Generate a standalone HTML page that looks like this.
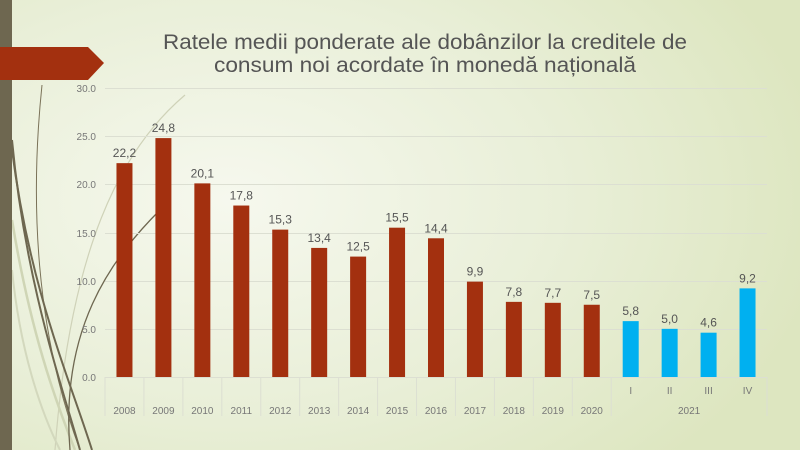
<!DOCTYPE html>
<html><head><meta charset="utf-8"><style>
body{margin:0}
#c{position:relative;width:800px;height:450px;overflow:hidden;background:radial-gradient(ellipse 600px 380px at 230px 200px,#f6f8ee 0%,#e9efd8 55%,#dde6c0 100%);font-family:"Liberation Sans",sans-serif}
</style></head><body><div id="c">
<svg width="800" height="450" style="position:absolute;left:0;top:0" font-family="Liberation Sans, sans-serif">
<g fill="none">
<path d="M185 95 C120 150 70 250 55 450" stroke="#cfd2b8" stroke-width="1.2"/>
<path d="M42 85 C30 200 35 330 80 450" stroke="#7a7258" stroke-width="1"/>
<path d="M12 140 C25 280 60 380 80 450" stroke="#6e6750" stroke-width="2"/>
<path d="M12 150 C30 290 70 380 92 450" stroke="#6e6750" stroke-width="2"/>
<path d="M12 220 C30 330 55 400 75 450" stroke="#cfd5b5" stroke-width="2.5"/>
<path d="M160 210 C110 260 60 330 70 450" stroke="#6e6750" stroke-width="1.3"/>
<path d="M12 270 C20 350 40 410 60 450" stroke="#d3d8bd" stroke-width="2"/>
</g>
<rect x="0" y="0" width="12" height="450" fill="#6e6750"/>
<polygon points="0,47 88,47 104,63 88,80 0,80" fill="#a3300f"/>
<text x="425" y="49" text-anchor="middle" font-size="21" fill="#555" textLength="524" lengthAdjust="spacingAndGlyphs">Ratele medii ponderate ale dobânzilor la creditele de</text>
<text x="425" y="72" text-anchor="middle" font-size="21" fill="#555" textLength="422" lengthAdjust="spacingAndGlyphs">consum noi acordate în monedă națională</text>
<g stroke="#dcdfd2" stroke-width="1">
<line x1="105" x2="767" y1="88.5" y2="88.5"/><line x1="105" x2="767" y1="136.5" y2="136.5"/><line x1="105" x2="767" y1="184.5" y2="184.5"/><line x1="105" x2="767" y1="233.5" y2="233.5"/><line x1="105" x2="767" y1="281.5" y2="281.5"/><line x1="105" x2="767" y1="329.5" y2="329.5"/><line x1="105" x2="767" y1="377.5" y2="377.5"/>
</g>
<g font-size="10" fill="#777" text-anchor="end">
<text x="96" y="92">30.0</text><text x="96" y="140">25.0</text><text x="96" y="188">20.0</text><text x="96" y="237">15.0</text><text x="96" y="285">10.0</text><text x="96" y="333">5.0</text><text x="96" y="381">0.0</text>
</g>
<g id="bars"></g>
</svg>
<script>
var v=[22.2,24.8,20.1,17.8,15.3,13.4,12.5,15.5,14.4,9.9,7.8,7.7,7.5,5.8,5.0,4.6,9.2];
var lab=["2008","2009","2010","2011","2012","2013","2014","2015","2016","2017","2018","2019","2020","I","II","III","IV"];
var s='',st=(767-105)/17;
for(var i=0;i<17;i++){var cx=105+st*(i+0.5),h=v[i]*9.633,y=377-h;
s+='<rect x="'+(cx-8)+'" y="'+y+'" width="16" height="'+h+'" fill="'+(i<13?'#a3300f':'#00b0f0')+'"/>';
s+='<text x="'+cx+'" y="'+(y-6)+'" text-anchor="middle" font-size="12" fill="#555">'+v[i].toFixed(1).replace('.',',')+'</text>';
s+='<text x="'+cx+'" y="'+(i<13?414:394)+'" text-anchor="middle" font-size="10" fill="#777">'+lab[i]+'</text>';}
var b=[0,1,2,3,4,5,6,7,8,9,10,11,12,13,17];
for(var j=0;j<b.length;j++){var x=105+st*b[j];s+='<line x1="'+x+'" x2="'+x+'" y1="377" y2="416" stroke="#dcdfd2"/>';}
s+='<text x="'+(105+st*15)+'" y="414" text-anchor="middle" font-size="10" fill="#777">2021</text>';
document.getElementById('bars').innerHTML=s;
</script>
</div></body></html>
